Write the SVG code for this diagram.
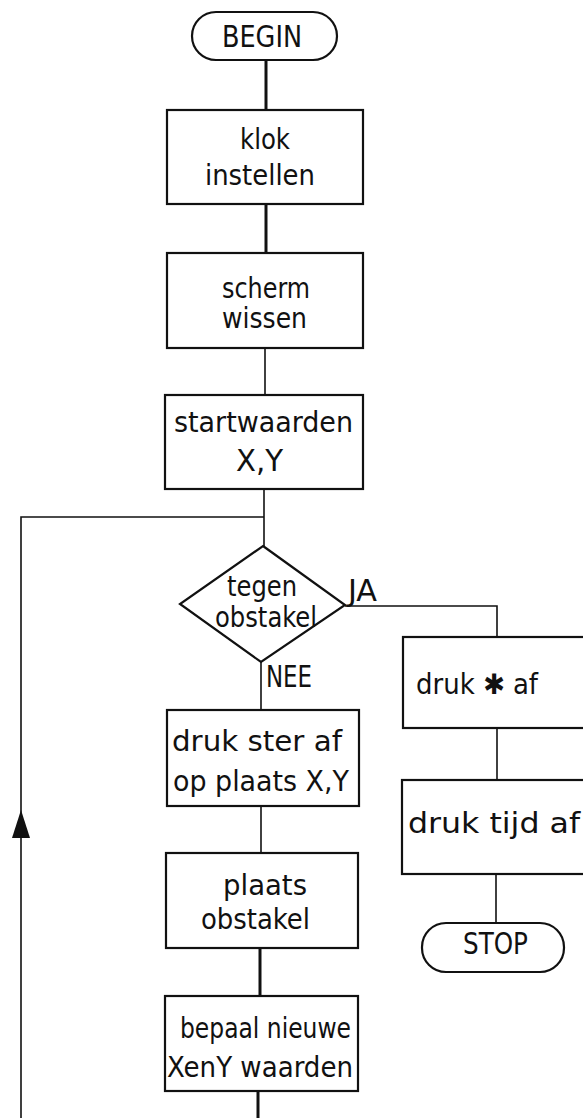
<svg xmlns="http://www.w3.org/2000/svg" width="583" height="1118" viewBox="0 0 583 1118">
<defs>
<style>
.box{fill:#fff;stroke:#111;stroke-width:2.2}
.c{fill:none;stroke:#111;stroke-width:1.6}
.ct{fill:none;stroke:#111;stroke-width:3}
.arrow{fill:#111;stroke:none}
.t{font-family:"DejaVu Sans Condensed","DejaVu Sans",sans-serif;font-size:28px;fill:#111}
.k{font-family:"DejaVu Sans Condensed","DejaVu Sans",sans-serif;font-size:31px;fill:#111}
</style>
</defs>
<rect width="583" height="1118" fill="#fff"/>
<g id="connectors">
<path class="ct" d="M266,60 V110"/>
<path class="ct" d="M266,204 V253"/>
<path class="c" d="M265,348 V395"/>
<path class="c" d="M264,489 V546"/>
<path class="c" d="M264,517 H21 V1118"/>
<polygon class="arrow" points="21,810 12,838 30,838"/>
<path class="c" d="M261,662 V710"/>
<path class="c" d="M261,806 V853"/>
<path class="ct" d="M260,948 V996"/>
<path class="ct" d="M258,1091 V1118"/>
<path class="c" d="M345,606 H497 V637"/>
<path class="c" d="M497,728 V780"/>
<path class="c" d="M496,874 V923"/>
</g>
<g id="begin">
<rect class="box" x="192" y="12" width="145" height="48" rx="24"/>
<text class="k" x="222" y="47" textLength="80" lengthAdjust="spacingAndGlyphs">BEGIN</text>
</g>
<g id="klok">
<rect class="box" x="167" y="110" width="196" height="94"/>
<text class="t" x="240" y="149" textLength="50" lengthAdjust="spacingAndGlyphs">klok</text>
<text class="t" x="205" y="185" textLength="110" lengthAdjust="spacingAndGlyphs">instellen</text>
</g>
<g id="scherm">
<rect class="box" x="167" y="253" width="196" height="95"/>
<text class="t" x="222" y="298" textLength="88" lengthAdjust="spacingAndGlyphs">scherm</text>
<text class="t" x="222" y="328" textLength="85" lengthAdjust="spacingAndGlyphs">wissen</text>
</g>
<g id="startwaarden">
<rect class="box" x="165" y="395" width="198" height="94"/>
<text class="t" x="174" y="432" textLength="179" lengthAdjust="spacingAndGlyphs">startwaarden</text>
<text class="k" x="236" y="471" textLength="47" lengthAdjust="spacingAndGlyphs">X,Y</text>
</g>
<g id="tegen-obstakel">
<polygon class="box" points="263,546 345,605 261,662 180,604"/>
<text class="t" x="227" y="596" textLength="70" lengthAdjust="spacingAndGlyphs">tegen</text>
<text class="t" x="215" y="627" textLength="102" lengthAdjust="spacingAndGlyphs">obstakel</text>
<text class="k" x="348" y="601" font-size="25" textLength="29" lengthAdjust="spacingAndGlyphs">JA</text>
<text class="k" x="266" y="687" textLength="46" lengthAdjust="spacingAndGlyphs">NEE</text>
</g>
<g id="druk-ster">
<rect class="box" x="167" y="710" width="192" height="96"/>
<text class="t" x="172" y="751" textLength="170" lengthAdjust="spacingAndGlyphs">druk ster  af</text>
<text class="t" x="173" y="791" textLength="176" lengthAdjust="spacingAndGlyphs">op plaats X,Y</text>
</g>
<g id="plaats-obstakel">
<rect class="box" x="166" y="853" width="192" height="95"/>
<text class="t" x="223" y="895" textLength="84" lengthAdjust="spacingAndGlyphs">plaats</text>
<text class="t" x="201" y="929" textLength="109" lengthAdjust="spacingAndGlyphs">obstakel</text>
</g>
<g id="bepaal">
<rect class="box" x="165" y="996" width="193" height="95"/>
<text class="t" x="180" y="1038" textLength="171" lengthAdjust="spacingAndGlyphs">bepaal nieuwe</text>
<text class="t" x="167" y="1077" textLength="186" lengthAdjust="spacingAndGlyphs">XenY waarden</text>
</g>
<g id="druk-asterisk">
<rect class="box" x="403" y="637" width="200" height="91"/>
<text class="t" x="416" y="694" textLength="122" lengthAdjust="spacingAndGlyphs">druk ✱ af</text>
</g>
<g id="druk-tijd">
<rect class="box" x="402" y="780" width="200" height="94"/>
<text class="t" x="408" y="833" textLength="172" lengthAdjust="spacingAndGlyphs">druk  tijd  af</text>
</g>
<g id="stop">
<rect class="box" x="422" y="923" width="142" height="49" rx="24"/>
<text class="k" x="463" y="954" font-size="29" textLength="65" lengthAdjust="spacingAndGlyphs">STOP</text>
</g>
</svg>
